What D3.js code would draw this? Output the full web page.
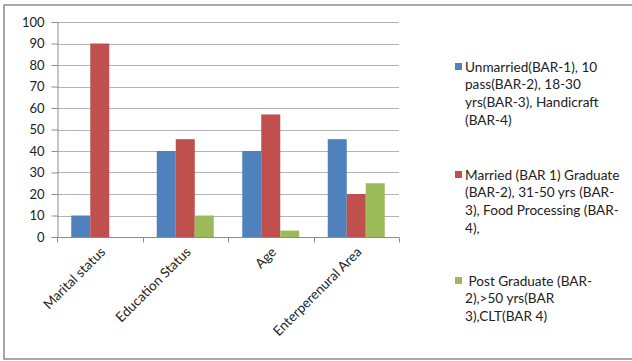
<!DOCTYPE html>
<html>
<head>
<meta charset="utf-8">
<script src="https://cdn.jsdelivr.net/npm/d3@7"></script>
<style>
  html, body { margin: 0; padding: 0; background: #fff; }
  svg { display: block; }
  text { font-family: Lato, "Open Sans", sans-serif; fill: #222; }
</style>
</head>
<body>
<svg id="chart" width="632" height="361"></svg>
<script>
// Survey categories along the x axis
const categories = ["Marital status", "Education Status", "Age", "Enterperenural Area"];

// Percentage for each bar within a category group
const bar1Values = [10, 40, 40, 45.5];
const bar2Values = [90, 45.5, 57, 20];
const bar3Values = [0, 10, 3, 25];

const yTicks = [0, 10, 20, 30, 40, 50, 60, 70, 80, 90, 100];

const legendLines = [
  ["Unmarried(BAR-1), 10", "pass(BAR-2), 18-30", "yrs(BAR-3), Handicraft", "(BAR-4)"],
  ["Married (BAR 1) Graduate", "(BAR-2), 31-50 yrs (BAR-", "3), Food Processing (BAR-", "4),"],
  [" Post Graduate (BAR-", "2),>50 yrs(BAR", "3),CLT(BAR 4)"]
];

const seriesKeys = ["s1", "s2", "s3"];
const colors = ["#4F81BD", "#C0504D", "#9BBB59"];

const rows = categories.map((c, i) => ({
  category: c,
  s1: bar1Values[i], s2: bar2Values[i], s3: bar3Values[i]
}));

const svg = d3.select("#chart");

// Outer frame
svg.append("path")
  .attr("d", "M632,5 H4 V359 H632")
  .attr("fill", "none")
  .attr("stroke", "#8c8c8c")
  .attr("stroke-width", 1.5);

const plot = { left: 57, right: 399, top: 22, bottom: 237 };

const x0 = d3.scaleBand().domain(categories).range([plot.left, plot.right]);
const x1 = d3.scaleBand().domain(seriesKeys).range([0, x0.bandwidth()])
  .paddingInner(0).paddingOuter(0.75);
const y = d3.scaleLinear().domain([0, 100]).range([plot.bottom, plot.top]);
const color = d3.scaleOrdinal().domain(seriesKeys).range(colors);

// Horizontal gridlines
svg.append("g")
  .selectAll("line")
  .data(yTicks.filter(t => t > 0))
  .join("line")
  .attr("x1", plot.left).attr("x2", plot.right)
  .attr("y1", d => Math.round(y(d)) + 0.5).attr("y2", d => Math.round(y(d)) + 0.5)
  .attr("stroke", "#b3b3b3").attr("stroke-width", 1);

// Bars
svg.append("g")
  .selectAll("g")
  .data(rows)
  .join("g")
  .attr("transform", d => `translate(${x0(d.category)},0)`)
  .selectAll("rect")
  .data(d => seriesKeys.map(k => ({ key: k, value: d[k] })))
  .join("rect")
  .attr("x", d => x1(d.key))
  .attr("width", x1.bandwidth())
  .attr("y", d => y(d.value))
  .attr("height", d => y(0) - y(d.value))
  .attr("fill", d => color(d.key));

// Y axis
const yAxis = svg.append("g")
  .attr("transform", `translate(${plot.left + 0.5},0)`)
  .call(d3.axisLeft(y).tickValues(yTicks).tickSize(6).tickPadding(7));
yAxis.select(".domain").attr("stroke", "#8c8c8c");
yAxis.selectAll(".tick line").attr("stroke", "#8c8c8c");
yAxis.selectAll(".tick text")
  .style("font-size", "13px").style("font-family", "Lato, sans-serif").attr("fill", "#222");

// X axis with tick marks at category boundaries
const xg = svg.append("g").attr("transform", `translate(0,${plot.bottom + 0.5})`);
xg.append("line")
  .attr("x1", plot.left).attr("x2", plot.right)
  .attr("stroke", "#8c8c8c");
const bounds = categories.map(c => x0(c)).concat([plot.right]);
xg.selectAll("line.tk")
  .data(bounds)
  .join("line").attr("class", "tk")
  .attr("x1", d => Math.round(d) + 0.5).attr("x2", d => Math.round(d) + 0.5)
  .attr("y1", 0).attr("y2", 5)
  .attr("stroke", "#8c8c8c");
xg.selectAll("text")
  .data(categories)
  .join("text")
  .attr("transform", d => `translate(${x0(d) + x0.bandwidth() / 2 + 3},${12}) rotate(-45)`)
  .attr("text-anchor", "end")
  .attr("dy", "0.35em")
  .style("font-size", "13.5px")
  .text(d => d);

// Legend
const legendTop = [67, 175, 281];
const legend = svg.append("g");
legendLines.forEach((lines, i) => {
  const g = legend.append("g");
  g.append("rect")
    .attr("x", 455).attr("y", legendTop[i] - 4)
    .attr("width", 7).attr("height", 7)
    .attr("fill", colors[i]);
  g.append("text")
    .attr("x", 465)
    .attr("y", legendTop[i])
    .style("font-size", "13.6px")
    .style("white-space", "pre")
    .attr("fill", "#333")
    .selectAll("tspan")
    .data(lines)
    .join("tspan")
    .attr("x", 465)
    .attr("dy", (d, j) => j === 0 ? "0.35em" : "17.7")
    .text(d => d);
});
</script>
</body>
</html>
